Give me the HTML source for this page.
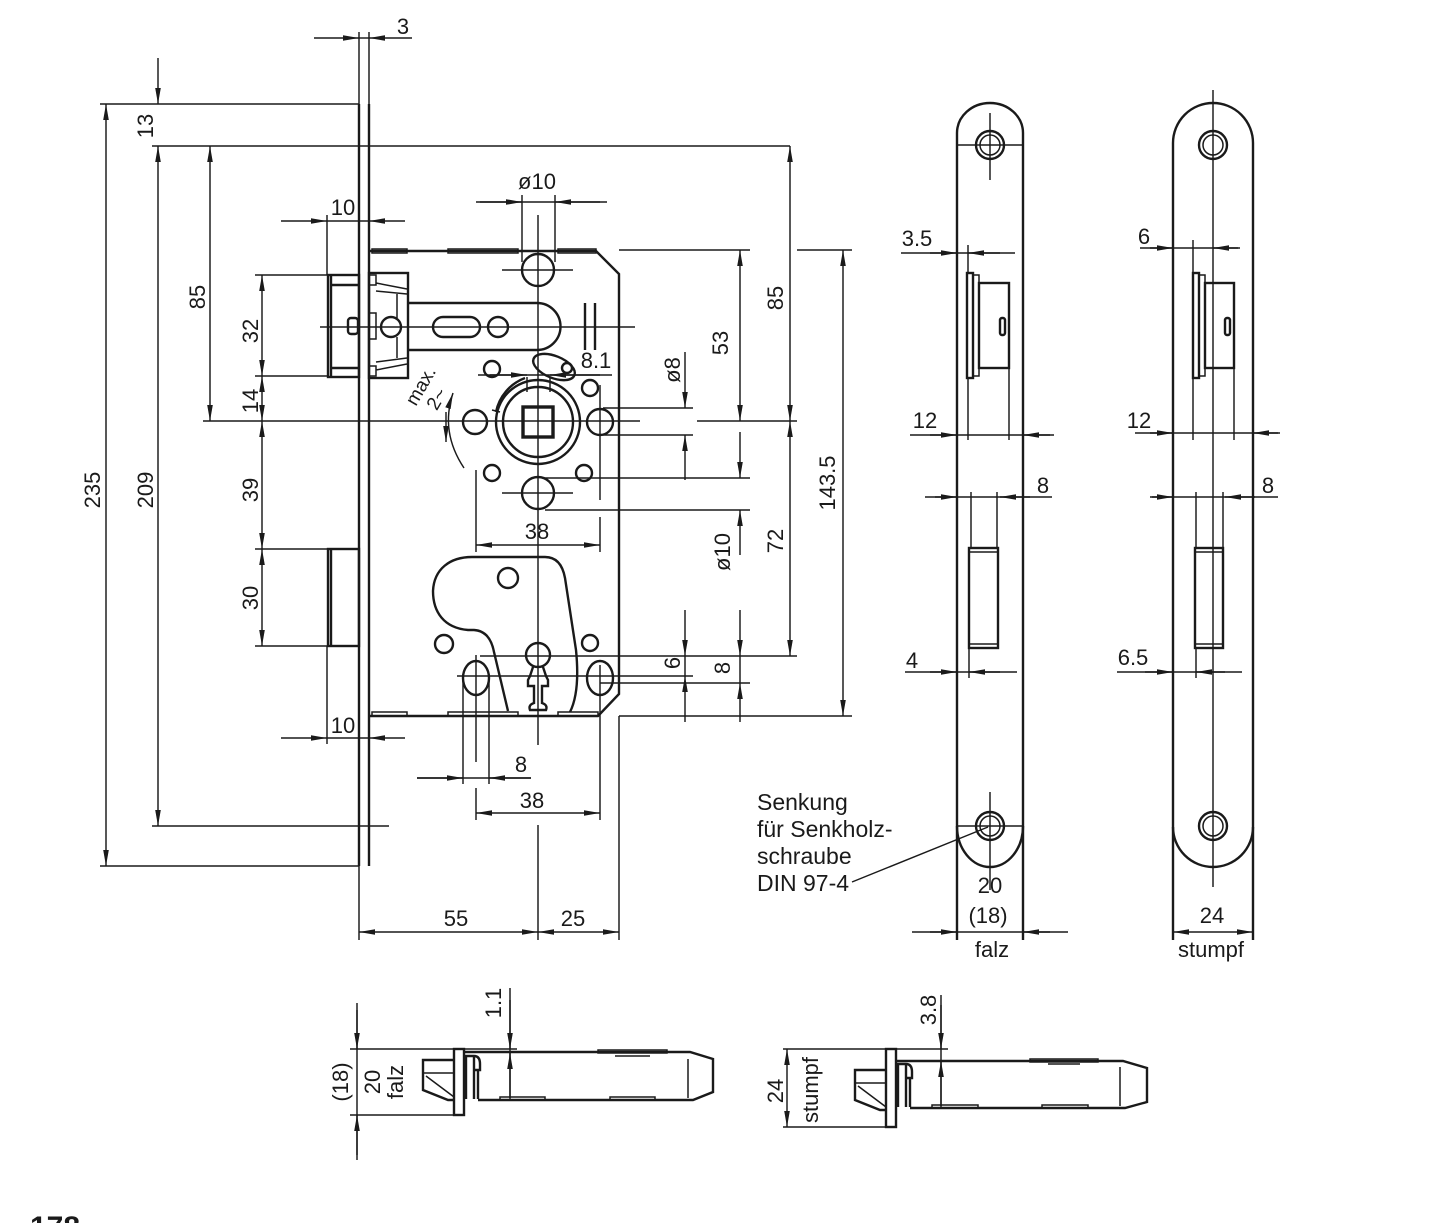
<!DOCTYPE html>
<html><head><meta charset="utf-8"><style>
html,body{margin:0;padding:0;background:#fff}
svg{display:block}
.d{stroke:#1a1a1a;stroke-width:1.45;fill:none}
.o{stroke:#1a1a1a;stroke-width:2.4;fill:none}
.f{stroke:#1a1a1a;stroke-width:1.5;fill:none}
text{font-family:"Liberation Sans","DejaVu Sans",sans-serif;font-size:22px;fill:#1a1a1a}
.n{font-size:23px}
</style></head><body>
<svg xmlns="http://www.w3.org/2000/svg" width="1439" height="1223" viewBox="0 0 1439 1223">
<defs><marker id="a" viewBox="0 0 16 6" refX="16" refY="3" markerWidth="16" markerHeight="6" orient="auto-start-reverse" markerUnits="userSpaceOnUse"><path d="M0,0.2 L16,3 L0,5.8 z" fill="#1a1a1a"/></marker></defs>
<rect width="1439" height="1223" fill="#fff"/>

<!-- ================= MAIN LOCK ================= -->
<path class="o" d="M359 104V866 M369 104V866"/>
<path class="d" d="M359 32V104 M369 32V104 M359 866V940"/>
<path class="d" d="M100 104H359 M152 146H790 M255 275H327 M255 376H327 M203 421H640 M697 421H797 M255 549H327 M255 646H327 M152 826H389 M100 866H359"/>
<line class="d" x1="106" y1="104" x2="106" y2="866" marker-start="url(#a)" marker-end="url(#a)"/>
<line class="d" x1="158" y1="146" x2="158" y2="826" marker-start="url(#a)" marker-end="url(#a)"/>
<line class="d" x1="210" y1="146" x2="210" y2="421" marker-start="url(#a)" marker-end="url(#a)"/>
<line class="d" x1="262" y1="275" x2="262" y2="376" marker-start="url(#a)" marker-end="url(#a)"/>
<line class="d" x1="262" y1="376" x2="262" y2="421" marker-start="url(#a)" marker-end="url(#a)"/>
<line class="d" x1="262" y1="421" x2="262" y2="549" marker-start="url(#a)" marker-end="url(#a)"/>
<line class="d" x1="262" y1="549" x2="262" y2="646" marker-start="url(#a)" marker-end="url(#a)"/>
<line class="d" x1="158" y1="58" x2="158" y2="104" marker-end="url(#a)"/>
<line class="d" x1="314" y1="38" x2="359" y2="38" marker-end="url(#a)"/>
<line class="d" x1="412" y1="38" x2="369" y2="38" marker-end="url(#a)"/>
<path class="d" d="M359 38H369"/>
<path class="d" d="M327 215V275 M327 646V744 M327 221H369 M327 738H369"/>
<line class="d" x1="281" y1="221" x2="327" y2="221" marker-end="url(#a)"/>
<line class="d" x1="405" y1="221" x2="369" y2="221" marker-end="url(#a)"/>
<line class="d" x1="281" y1="738" x2="327" y2="738" marker-end="url(#a)"/>
<line class="d" x1="405" y1="738" x2="369" y2="738" marker-end="url(#a)"/>

<rect class="o" x="328" y="275" width="31" height="102"/>
<path class="o" d="M331 275V377 M331 285H359 M331 368H359"/>
<rect class="o" x="348" y="318" width="10" height="16" rx="3"/>
<rect class="o" x="328" y="549" width="31" height="97"/>
<path class="o" d="M331 549V646"/>

<path class="o" d="M369 251H596L619 274V694L598 716H369"/>
<g class="f">
<rect x="372" y="249" width="35" height="4"/><rect x="448" y="249" width="70" height="4"/><rect x="558" y="249" width="38" height="4"/>
<rect x="372" y="712" width="35" height="4"/><rect x="448" y="712" width="70" height="4"/><rect x="558" y="712" width="40" height="4"/>
</g>
<rect class="o" x="369" y="273" width="39" height="105"/>
<path class="f" d="M370 275H376V285H370 M370 313H376V339H370 M370 366H376V376H370 M376 283L407 289 M376 291L407 294 M376 370L407 364 M376 362L407 358 M397 294V318 M397 337V358"/>
<circle class="o" cx="391" cy="327" r="10"/>
<path class="o" d="M408 303H537A23.5 23.5 0 0 1 537 350H408"/>
<rect class="o" x="433" y="317" width="47" height="20" rx="10"/>
<circle class="o" cx="498" cy="327" r="10"/>
<path class="d" d="M320 327H635"/>
<path class="o" d="M585 303V350 M595 303V350"/>

<circle class="o" cx="538" cy="270" r="16"/>
<path class="d" d="M502 270H573 M538 215V745 M538 825V940"/>
<path class="d" d="M522 195V262 M555 195V262 M476 202H607"/>
<line class="d" x1="480" y1="202" x2="522" y2="202" marker-end="url(#a)"/>
<line class="d" x1="600" y1="202" x2="555" y2="202" marker-end="url(#a)"/>

<circle class="o" cx="538" cy="422" r="42"/>
<circle class="o" cx="538" cy="422" r="35"/>
<path class="o" d="M496 412 A46 46 0 0 1 525 378"/>
<path class="f" d="M492 410 L500 412"/>
<rect x="523" y="407" width="30" height="30" fill="none" stroke="#1a1a1a" stroke-width="3.4"/>
<path class="d" d="M527 377V392 M550 377V392"/>
<circle class="o" cx="475" cy="422" r="12"/>
<circle class="o" cx="600" cy="422" r="13"/>
<circle class="o" cx="492" cy="369" r="8"/>
<circle class="o" cx="590" cy="388" r="8"/>
<circle class="o" cx="492" cy="473" r="8"/>
<circle class="o" cx="584" cy="473" r="8"/>
<ellipse class="o" cx="554" cy="367" rx="22" ry="11" transform="rotate(22 554 367)"/>
<circle class="o" cx="567" cy="368" r="5"/>
<path class="d" d="M478 375H612"/>
<line class="d" x1="490" y1="375" x2="527" y2="375" marker-end="url(#a)"/>
<line class="d" x1="600" y1="375" x2="550" y2="375" marker-end="url(#a)"/>
<text x="596" y="368" text-anchor="middle">8.1</text>
<text transform="translate(421,386) rotate(-60)" text-anchor="middle" dy="6" style="font-size:19px">max.</text>
<text transform="translate(437,399) rotate(-60)" text-anchor="middle" dy="6" style="font-size:19px">2~</text>
<path class="d" d="M453 393 Q440 432 464 468" marker-start="url(#a)"/>
<line class="d" x1="446" y1="412" x2="446" y2="442" marker-end="url(#a)"/>

<circle class="o" cx="538" cy="493" r="16"/>
<path class="d" d="M502 493H573 M545 478H750 M545 510H750 M603 408H693 M603 435H693"/>
<path class="d" d="M476 470V552 M600 385V500 M600 517V552 M476 655V762 M476 788V820 M600 665V820 M463 680V784 M489 680V784 M619 716V940"/>
<line class="d" x1="476" y1="545" x2="600" y2="545" marker-start="url(#a)" marker-end="url(#a)"/>
<path class="o" d="M508 711 L494 652 Q490 631 474 630 L468 630 C444 628 433 612 433 591 C434 569 450 557 472 557 L545 557 C558 557 563 567 565 578 L576 650 C579 680 576 700 570 712"/>
<circle class="o" cx="508" cy="578" r="10"/>
<circle class="o" cx="444" cy="644" r="9"/>
<circle class="o" cx="590" cy="643" r="8"/>
<circle class="o" cx="538" cy="655" r="12"/>
<path class="o" d="M533 667 L530 676 L528 680 L528 686 L534 686 L534 703 Q528 705 530 710 L546 710 Q548 705 542 703 L542 686 L548 686 L548 680 L546 676 L543 667"/>
<ellipse class="o" cx="476" cy="678" rx="13" ry="17"/>
<ellipse class="o" cx="600" cy="678" rx="13" ry="17"/>
<path class="d" d="M480 656H797 M457 676H693 M600 683H750"/>

<path class="d" d="M619 250H750 M797 250H852 M619 716H852"/>
<line class="d" x1="740" y1="250" x2="740" y2="421" marker-start="url(#a)" marker-end="url(#a)"/>
<line class="d" x1="790" y1="146" x2="790" y2="421" marker-start="url(#a)" marker-end="url(#a)"/>
<line class="d" x1="790" y1="421" x2="790" y2="656" marker-start="url(#a)" marker-end="url(#a)"/>
<line class="d" x1="843" y1="250" x2="843" y2="716" marker-start="url(#a)" marker-end="url(#a)"/>
<line class="d" x1="685" y1="352" x2="685" y2="408" marker-end="url(#a)"/>
<line class="d" x1="685" y1="480" x2="685" y2="435" marker-end="url(#a)"/>
<line class="d" x1="740" y1="432" x2="740" y2="478" marker-end="url(#a)"/>
<line class="d" x1="740" y1="555" x2="740" y2="510" marker-end="url(#a)"/>
<line class="d" x1="685" y1="610" x2="685" y2="656" marker-end="url(#a)"/>
<line class="d" x1="685" y1="722" x2="685" y2="676" marker-end="url(#a)"/>
<line class="d" x1="740" y1="610" x2="740" y2="656" marker-end="url(#a)"/>
<line class="d" x1="740" y1="722" x2="740" y2="683" marker-end="url(#a)"/>
<path class="d" d="M685 656V676 M740 656V683"/>

<path class="d" d="M417 778H531"/>
<line class="d" x1="417" y1="778" x2="463" y2="778" marker-end="url(#a)"/>
<line class="d" x1="531" y1="778" x2="489" y2="778" marker-end="url(#a)"/>
<line class="d" x1="476" y1="813" x2="600" y2="813" marker-start="url(#a)" marker-end="url(#a)"/>
<line class="d" x1="359" y1="932" x2="538" y2="932" marker-start="url(#a)" marker-end="url(#a)"/>
<line class="d" x1="538" y1="932" x2="619" y2="932" marker-start="url(#a)" marker-end="url(#a)"/>

<text x="403" y="34" text-anchor="middle">3</text>
<text x="343" y="215" text-anchor="middle">10</text>
<text x="537" y="189" text-anchor="middle">ø10</text>
<text x="537" y="539" text-anchor="middle">38</text>
<text x="343" y="733" text-anchor="middle">10</text>
<text x="521" y="772" text-anchor="middle">8</text>
<text x="532" y="808" text-anchor="middle">38</text>
<text x="456" y="926" text-anchor="middle">55</text>
<text x="573" y="926" text-anchor="middle">25</text>
<g text-anchor="middle">
<text transform="translate(145,126) rotate(-90)" dy="8">13</text>
<text transform="translate(92,490) rotate(-90)" dy="8">235</text>
<text transform="translate(145,490) rotate(-90)" dy="8">209</text>
<text transform="translate(197,297) rotate(-90)" dy="8">85</text>
<text transform="translate(250,331) rotate(-90)" dy="8">32</text>
<text transform="translate(250,401) rotate(-90)" dy="8">14</text>
<text transform="translate(250,490) rotate(-90)" dy="8">39</text>
<text transform="translate(250,598) rotate(-90)" dy="8">30</text>
<text transform="translate(672,370) rotate(-90)" dy="8">ø8</text>
<text transform="translate(720,343) rotate(-90)" dy="8">53</text>
<text transform="translate(775,298) rotate(-90)" dy="8">85</text>
<text transform="translate(827,483) rotate(-90)" dy="8">143.5</text>
<text transform="translate(775,541) rotate(-90)" dy="8">72</text>
<text transform="translate(722,552) rotate(-90)" dy="8">ø10</text>
<text transform="translate(672,663) rotate(-90)" dy="8">6</text>
<text transform="translate(722,668) rotate(-90)" dy="8">8</text>
</g>

<!-- ================= STRIKE PLATE FALZ ================= -->
<path class="o" d="M957 940V133A33 30 0 0 1 1023 133V940"/>
<path class="o" d="M957 826A33 41 0 0 0 1023 826"/>
<circle class="o" cx="990" cy="145" r="14"/><circle class="f" cx="990" cy="145" r="10"/>
<circle class="o" cx="990" cy="826" r="14"/><circle class="f" cx="990" cy="826" r="10"/>
<path class="d" d="M957 145H1023 M990 113V180 M957 826H1023 M990 792V890"/>
<rect class="o" x="967" y="273" width="6" height="105"/>
<rect class="f" x="973" y="275" width="6" height="101"/>
<rect class="o" x="979" y="283" width="30" height="85"/>
<rect class="o" x="1000" y="318" width="5" height="17" rx="2"/>
<rect class="o" x="969" y="548" width="29" height="100"/>
<path class="f" d="M969 552H998 M969 644H998"/>
<path class="d" d="M901 253H1015 M968 245V273 M910 435H1054 M968 378V440 M1009 368V440 M925 497H1052 M971 492V548 M997 492V548 M905 672H1017 M969 648V678 M912 932H1068"/>
<line class="d" x1="930" y1="253" x2="957" y2="253" marker-end="url(#a)"/>
<line class="d" x1="1000" y1="253" x2="968" y2="253" marker-end="url(#a)"/>
<line class="d" x1="930" y1="435" x2="957" y2="435" marker-end="url(#a)"/>
<line class="d" x1="1050" y1="435" x2="1023" y2="435" marker-end="url(#a)"/>
<line class="d" x1="935" y1="497" x2="957" y2="497" marker-end="url(#a)"/>
<line class="d" x1="1030" y1="497" x2="1000" y2="497" marker-end="url(#a)"/>
<line class="d" x1="930" y1="672" x2="957" y2="672" marker-end="url(#a)"/>
<line class="d" x1="1000" y1="672" x2="969" y2="672" marker-end="url(#a)"/>
<line class="d" x1="930" y1="932" x2="957" y2="932" marker-end="url(#a)"/>
<line class="d" x1="1050" y1="932" x2="1023" y2="932" marker-end="url(#a)"/>
<text x="917" y="246" text-anchor="middle">3.5</text>
<text x="925" y="428" text-anchor="middle">12</text>
<text x="1043" y="493" text-anchor="middle">8</text>
<text x="912" y="668" text-anchor="middle">4</text>
<text x="990" y="893" text-anchor="middle">20</text>
<text x="988" y="923" text-anchor="middle">(18)</text>
<text x="992" y="957" text-anchor="middle">falz</text>
<text class="n" x="757" y="810">Senkung</text>
<text class="n" x="757" y="837">für Senkholz-</text>
<text class="n" x="757" y="864">schraube</text>
<text class="n" x="757" y="891">DIN 97-4</text>
<path class="d" d="M852 882L988 827"/>

<!-- ================= STRIKE PLATE STUMPF ================= -->
<path class="o" d="M1173 940V143A40 40 0 0 1 1253 143V940"/>
<path class="o" d="M1173 827A40 40 0 0 0 1253 827"/>
<circle class="o" cx="1213" cy="145" r="14"/><circle class="f" cx="1213" cy="145" r="10"/>
<circle class="o" cx="1213" cy="826" r="14"/><circle class="f" cx="1213" cy="826" r="10"/>
<path class="d" d="M1213 90V887"/>
<rect class="o" x="1193" y="273" width="6" height="105"/>
<rect class="f" x="1199" y="275" width="6" height="101"/>
<rect class="o" x="1205" y="283" width="29" height="85"/>
<rect class="o" x="1225" y="318" width="5" height="17" rx="2"/>
<rect class="o" x="1195" y="548" width="28" height="100"/>
<path class="f" d="M1195 552H1223 M1195 644H1223"/>
<path class="d" d="M1140 248H1240 M1193 240V273 M1135 433H1280 M1193 378V440 M1234 368V440 M1150 497H1278 M1196 492V548 M1223 492V548 M1117 672H1242 M1196 648V678"/>
<line class="d" x1="1150" y1="248" x2="1173" y2="248" marker-end="url(#a)"/>
<line class="d" x1="1238" y1="248" x2="1213" y2="248" marker-end="url(#a)"/>
<line class="d" x1="1150" y1="433" x2="1173" y2="433" marker-end="url(#a)"/>
<line class="d" x1="1278" y1="433" x2="1253" y2="433" marker-end="url(#a)"/>
<line class="d" x1="1152" y1="497" x2="1173" y2="497" marker-end="url(#a)"/>
<line class="d" x1="1255" y1="497" x2="1225" y2="497" marker-end="url(#a)"/>
<line class="d" x1="1145" y1="672" x2="1173" y2="672" marker-end="url(#a)"/>
<line class="d" x1="1225" y1="672" x2="1196" y2="672" marker-end="url(#a)"/>
<line class="d" x1="1173" y1="932" x2="1253" y2="932" marker-start="url(#a)" marker-end="url(#a)"/>
<text x="1144" y="244" text-anchor="middle">6</text>
<text x="1139" y="428" text-anchor="middle">12</text>
<text x="1268" y="493" text-anchor="middle">8</text>
<text x="1133" y="665" text-anchor="middle">6.5</text>
<text x="1212" y="923" text-anchor="middle">24</text>
<text x="1211" y="957" text-anchor="middle">stumpf</text>

<!-- ================= SIDE VIEW FALZ ================= -->
<rect class="o" x="454" y="1049" width="10" height="66"/>
<path class="o" d="M464 1052H690L713 1059V1092L693 1100H478"/>
<path class="f" d="M688 1059V1098"/>
<rect class="f" x="598" y="1050" width="69" height="3"/>
<path class="f" d="M615 1056H650"/>
<rect class="f" x="500" y="1097" width="45" height="3"/>
<rect class="f" x="610" y="1097" width="45" height="3"/>
<path class="o" d="M466 1099V1056H474Q480 1056 480 1064V1070H474 M474 1056V1099 M478 1070V1099"/>
<path class="o" d="M454 1060H423V1090L448 1100H454"/>
<path class="f" d="M423 1073H454 M426 1076L454 1097"/>
<path class="d" d="M350 1049H517 M350 1115H454 M357 1003V1160 M510 988V1100"/>
<line class="d" x1="357" y1="1010" x2="357" y2="1049" marker-end="url(#a)"/>
<line class="d" x1="357" y1="1155" x2="357" y2="1115" marker-end="url(#a)"/>
<line class="d" x1="510" y1="1000" x2="510" y2="1049" marker-end="url(#a)"/>
<line class="d" x1="510" y1="1098" x2="510" y2="1053" marker-end="url(#a)"/>
<g text-anchor="middle">
<text transform="translate(340,1082) rotate(-90)" dy="8">(18)</text>
<text transform="translate(372,1082) rotate(-90)" dy="8">20</text>
<text transform="translate(395,1082) rotate(-90)" dy="8">falz</text>
<text transform="translate(493,1003) rotate(-90)" dy="8">1.1</text>
</g>

<!-- ================= SIDE VIEW STUMPF ================= -->
<rect class="o" x="886" y="1049" width="10" height="78"/>
<path class="o" d="M896 1061H1123L1147 1068V1102L1125 1108H910"/>
<path class="f" d="M1120 1067V1106"/>
<rect class="f" x="1030" y="1059" width="68" height="3"/>
<path class="f" d="M1048 1064H1080"/>
<rect class="f" x="932" y="1105" width="46" height="3"/>
<rect class="f" x="1042" y="1105" width="46" height="3"/>
<path class="o" d="M898 1107V1064H906Q912 1064 912 1072V1078H906 M906 1064V1107 M910 1078V1107"/>
<path class="o" d="M886 1070H855V1100L880 1110H886"/>
<path class="f" d="M855 1083H886 M858 1086L886 1107"/>
<path class="d" d="M783 1049H948 M783 1127H886 M941 995V1108"/>
<line class="d" x1="787" y1="1049" x2="787" y2="1127" marker-start="url(#a)" marker-end="url(#a)"/>
<line class="d" x1="941" y1="1005" x2="941" y2="1049" marker-end="url(#a)"/>
<line class="d" x1="941" y1="1106" x2="941" y2="1061" marker-end="url(#a)"/>
<g text-anchor="middle">
<text transform="translate(775,1091) rotate(-90)" dy="8">24</text>
<text transform="translate(810,1090) rotate(-90)" dy="8">stumpf</text>
<text transform="translate(928,1010) rotate(-90)" dy="8">3.8</text>
</g>

<text x="30" y="1237" style="font-size:30px;font-weight:bold">178</text>
</svg>
</body></html>
